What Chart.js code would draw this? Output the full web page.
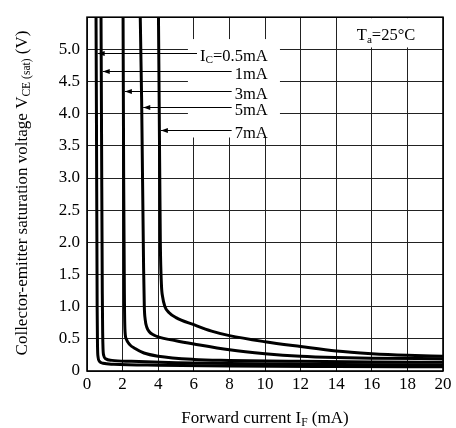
<!DOCTYPE html>
<html>
<head>
<meta charset="utf-8">
<script src="https://cdn.jsdelivr.net/npm/chart.js@4"></script>
<style>
  html, body { margin: 0; padding: 0; background: #fff; }
</style>
</head>
<body>
<canvas id="myChart" width="456" height="428"></canvas>
<script>

// VCE(sat) vs IF, one curve per collector current

const currents = ['0.5mA', '1mA', '3mA', '5mA', '7mA'];

const if05 = [0.50, 0.53, 0.57, 0.59, 0.62, 0.70, 0.90, 1.5, 4, 8, 14, 20];
const vce05 = [6.0, 4.0, 1.0, 0.40, 0.22, 0.15, 0.12, 0.105, 0.09, 0.078, 0.07, 0.065];

const if1 = [0.78, 0.82, 0.86, 0.88, 0.90, 0.94, 1.05, 1.4, 2.5, 5, 8, 14, 20];
const vce1 = [6.0, 3.5, 1.2, 0.6, 0.35, 0.24, 0.19, 0.165, 0.15, 0.13, 0.115, 0.10, 0.095];

const if3 = [2.02, 2.06, 2.10, 2.13, 2.20, 2.40, 2.70, 3.20, 4.0, 6.0, 8.0, 12, 16, 20];
const vce3 = [6.0, 3.0, 1.2, 0.65, 0.50, 0.41, 0.35, 0.28, 0.23, 0.18, 0.165, 0.15, 0.14, 0.135];

const if5 = [2.96, 3.07, 3.18, 3.22, 3.27, 3.36, 3.50, 3.75, 4.0, 5.0, 6.0, 8.0, 10, 12, 14, 16, 20];
const vce5 = [6.0, 4.2, 1.6, 1.0, 0.80, 0.68, 0.61, 0.56, 0.53, 0.47, 0.42, 0.33, 0.27, 0.23, 0.21, 0.20, 0.19];

const if7 = [4.00, 4.06, 4.12, 4.18, 4.25, 4.38, 4.60, 5.0, 6.0, 7.0, 8.0, 10, 12, 14, 16, 18, 20];
const vce7 = [6.0, 4.0, 2.0, 1.35, 1.15, 1.0, 0.91, 0.83, 0.72, 0.62, 0.55, 0.455, 0.38, 0.31, 0.27, 0.245, 0.23];

// height (V) where each label's leader line meets its curve
const leaderV = [4.95, 4.66, 4.36, 4.10, 3.75];

const xMax = 20;
const xStep = 2;
const yMax = 5.5;
const yStep = 0.5;

const curvesX = [if05, if1, if3, if5, if7];
const curvesY = [vce05, vce1, vce3, vce5, vce7];

const FONT = '"Liberation Serif", "Times New Roman", serif';

function toPoints(xs, ys) {
  return xs.map((v, i) => ({x: v, y: ys[i]}));
}

// x position of a curve at a given voltage (first crossing from the top)
function curveXAt(xs, ys, v) {
  for (let i = 0; i < ys.length - 1; i++) {
    if (ys[i] >= v && ys[i + 1] <= v) {
      let t = (ys[i] - v) / (ys[i] - ys[i + 1]);
      return xs[i] + t * (xs[i + 1] - xs[i]);
    }
  }
  return xs[0];
}

// text with subscripts: parts = [[text, isSub], ...]
function richWidth(ctx, parts, size) {
  let w = 0;
  parts.forEach(p => {
    ctx.font = (p[1] ? size * 0.68 : size) + 'px ' + FONT;
    w += ctx.measureText(p[0]).width;
  });
  return w;
}

function drawRich(ctx, parts, x, y, align, size) {
  let w = richWidth(ctx, parts, size);
  let cx = align === 'center' ? x - w / 2 : align === 'right' ? x - w : x;
  ctx.textAlign = 'left';
  ctx.textBaseline = 'alphabetic';
  parts.forEach(p => {
    ctx.font = (p[1] ? size * 0.68 : size) + 'px ' + FONT;
    ctx.fillText(p[0], cx, p[1] ? y + size * 0.18 : y);
    cx += ctx.measureText(p[0]).width;
  });
  return w;
}

const labelParts = [
  [['I', false], ['C', true], ['=0.5mA', false]],
  [['1mA', false]],
  [['3mA', false]],
  [['5mA', false]],
  [['7mA', false]]
];

const notesPlugin = {
  id: 'notes',
  beforeDatasetsDraw(chart) {
    const ctx = chart.ctx;
    const x = chart.scales.x;
    const y = chart.scales.y;
    ctx.save();

    // white panels over the grid
    ctx.fillStyle = '#fff';
    let bx0 = x.getPixelForValue(5.67), bx1 = x.getPixelForValue(10.84);
    let by0 = y.getPixelForValue(5.16), by1 = y.getPixelForValue(3.63);
    ctx.fillRect(bx0, by0, bx1 - bx0, by1 - by0);

    let tx0 = x.getPixelForValue(14.1) + 1, tx1 = x.getPixelForValue(20) - 1;
    let ty0 = y.getPixelForValue(5.5) + 1, ty1 = y.getPixelForValue(5.03);
    ctx.fillRect(tx0, ty0, tx1 - tx0, ty1 - ty0);

    // Ta label
    ctx.fillStyle = '#000';
    drawRich(ctx, [['T', false], ['a', true], ['=25°C', false]],
      x.getPixelForValue(16.8), y.getPixelForValue(5.23) + 5, 'center', 16.5);

    // current labels with leader arrows
    let textRight = x.getPixelForValue(10.15);
    ctx.strokeStyle = '#000';
    ctx.lineWidth = 1;
    leaderV.forEach((v, i) => {
      let ly = Math.round(y.getPixelForValue(v)) + 0.5;
      let tip = x.getPixelForValue(curveXAt(curvesX[i], curvesY[i], v)) + 1.5;
      let w = drawRich(ctx, labelParts[i], textRight, ly + 7, 'right', 16.5);
      let end = textRight - w - 3;
      ctx.beginPath();
      ctx.moveTo(tip, ly);
      ctx.lineTo(end, ly);
      ctx.stroke();
      ctx.beginPath();
      ctx.moveTo(tip, ly);
      ctx.lineTo(tip + 7, ly - 2.5);
      ctx.lineTo(tip + 7, ly + 2.5);
      ctx.closePath();
      ctx.fill();
    });
    ctx.restore();
  },
  afterDatasetsDraw(chart) {
    const ctx = chart.ctx;
    const a = chart.chartArea;
    ctx.save();
    ctx.strokeStyle = '#000';
    ctx.lineWidth = 1.6;
    ctx.strokeRect(a.left, a.top, a.right - a.left, a.bottom - a.top);
    ctx.restore();
  },
  afterDraw(chart) {
    const ctx = chart.ctx;
    const a = chart.chartArea;
    ctx.save();
    ctx.fillStyle = '#000';
    drawRich(ctx, [['Forward current I', false], ['F', true], [' (mA)', false]],
      (a.left + a.right) / 2, 423, 'center', 17);
    ctx.translate(27, 193);
    ctx.rotate(-Math.PI / 2);
    drawRich(ctx, [['Collector-emitter saturation voltage V', false], ['CE (sat)', true], [' (V)', false]],
      0, 0, 'center', 17);
    ctx.restore();
  }
};

const datasets = curvesX.map((xs, i) => ({
  label: currents[i],
  data: toPoints(xs, curvesY[i]),
  borderColor: '#000',
  borderWidth: 3,
  pointRadius: 0,
  fill: false,
  cubicInterpolationMode: 'monotone'
}));

const tickFont = {family: FONT, size: 17};

let myChart = new Chart(document.getElementById('myChart').getContext('2d'), {
  type: 'line',
  data: { datasets: datasets },
  plugins: [notesPlugin],
  options: {
    responsive: false,
    animation: false,
    layout: { padding: { left: 0, top: 17, right: 13, bottom: 0 } },
    plugins: {
      legend: { display: false },
      tooltip: { enabled: false }
    },
    scales: {
      x: {
        type: 'linear',
        min: 0,
        max: xMax,
        afterFit(scale) { scale.height = 57; },
        ticks: { stepSize: xStep, color: '#000', font: tickFont, padding: 3, maxRotation: 0 },
        grid: { color: '#222', lineWidth: 1, drawTicks: false },
        border: { display: false }
      },
      y: {
        min: 0,
        max: yMax,
        afterFit(scale) { scale.width = 87; },
        ticks: {
          stepSize: yStep,
          color: '#000',
          font: tickFont,
          padding: 7,
          callback: v => v === yMax ? '' : v === 0 ? '0' : v.toFixed(1)
        },
        grid: { color: '#222', lineWidth: 1, drawTicks: false },
        border: { display: false }
      }
    }
  }
});

</script>
</body>
</html>
